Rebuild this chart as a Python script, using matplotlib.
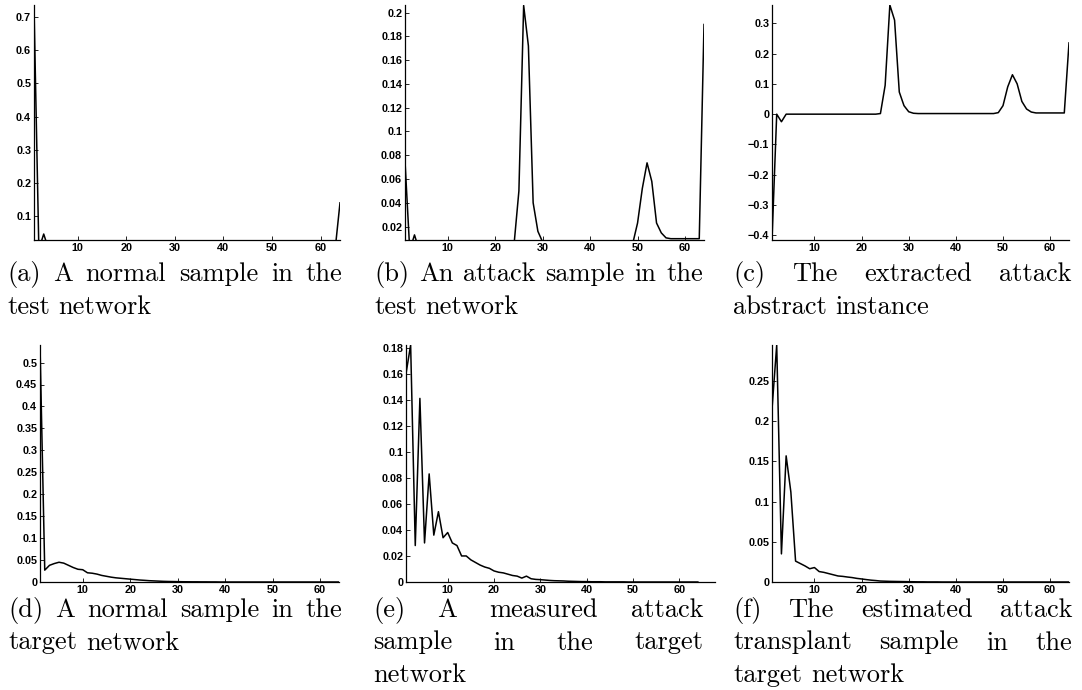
import numpy as np
import matplotlib
matplotlib.use("Agg")
import matplotlib.pyplot as plt
from matplotlib.ticker import FuncFormatter

# x positions (feature index 1..64)
x = np.arange(1, 65)

# (a) normal sample, test network
normal_test = [0.73, 0.0, 0.046, 0.0, 0.0, 0.0, 0.0, 0.0, 0.0, 0.0,
               0.0, 0.0, 0.0, 0.0, 0.0, 0.0, 0.0, 0.0, 0.0, 0.0,
               0.0, 0.0, 0.0, 0.0, 0.0, 0.0, 0.0, 0.0, 0.0, 0.0,
               0.0, 0.0, 0.0, 0.0, 0.0, 0.0, 0.0, 0.0, 0.0, 0.0,
               0.0, 0.0, 0.0, 0.0, 0.0, 0.0, 0.0, 0.0, 0.0, 0.0,
               0.0, 0.0, 0.0, 0.0, 0.0, 0.0, 0.0, 0.0, 0.0, 0.0,
               0.0, 0.0, 0.0, 0.14]

# (b) attack sample, test network
attack_test = [0.075, 0.0, 0.013, 0.0, 0.0, 0.0, 0.0, 0.0, 0.0, 0.0,
               0.0, 0.0, 0.0, 0.0, 0.0, 0.0, 0.0, 0.0, 0.0, 0.0,
               0.0, 0.0, 0.0, 0.006, 0.05, 0.206, 0.172, 0.04, 0.016, 0.007,
               0.003, 0.0, 0.0, 0.0, 0.0, 0.0, 0.0, 0.0, 0.0, 0.0,
               0.0, 0.0, 0.0, 0.0, 0.0, 0.0, 0.0, 0.0, 0.006, 0.023,
               0.052, 0.0736, 0.058, 0.023, 0.0147, 0.0105, 0.0098, 0.0098, 0.0098, 0.0098,
               0.0098, 0.0098, 0.0098, 0.19]

# (c) extracted attack abstract instance
abstract = [-0.415, 0.0, -0.025, 0.0, 0.0, 0.0, 0.0, 0.0, 0.0, 0.0,
            0.0, 0.0, 0.0, 0.0, 0.0, 0.0, 0.0, 0.0, 0.0, 0.0,
            0.0, 0.0, 0.0, 0.002, 0.095, 0.36, 0.31, 0.073, 0.028, 0.008,
            0.003, 0.002, 0.002, 0.002, 0.002, 0.002, 0.002, 0.002, 0.002, 0.002,
            0.002, 0.002, 0.002, 0.002, 0.002, 0.002, 0.002, 0.002, 0.005, 0.028,
            0.09, 0.13, 0.10, 0.042, 0.017, 0.007, 0.004, 0.004, 0.004, 0.004,
            0.004, 0.004, 0.004, 0.235]

# (d) normal sample, target network
normal_target = [0.54, 0.027, 0.038, 0.042, 0.045, 0.043, 0.038, 0.033, 0.029, 0.028,
                 0.021, 0.02, 0.018, 0.015, 0.013, 0.011, 0.0095, 0.0085, 0.0075, 0.0065,
                 0.0055, 0.0045, 0.0038, 0.003, 0.0025, 0.002, 0.0015, 0.0012, 0.001, 0.0008,
                 0.0006, 0.0005, 0.0004, 0.0004, 0.0003, 0.0003, 0.0002, 0.0002, 0.0, 0.0,
                 0.0, 0.0, 0.0, 0.0, 0.0, 0.0, 0.0, 0.0, 0.0, 0.0,
                 0.0, 0.0, 0.0, 0.0, 0.0, 0.0, 0.0, 0.0, 0.0, 0.0,
                 0.0, 0.0, 0.0, 0.0]

# (e) measured attack sample, target network
attack_target = [0.16, 0.182, 0.028, 0.141, 0.03, 0.083, 0.036, 0.054, 0.034, 0.038,
                 0.030, 0.028, 0.020, 0.020, 0.017, 0.015, 0.013, 0.0115, 0.0105, 0.0085,
                 0.0075, 0.007, 0.006, 0.005, 0.0045, 0.003, 0.0045, 0.0025, 0.002, 0.0018,
                 0.0015, 0.0012, 0.001, 0.0009, 0.0008, 0.0006, 0.0005, 0.0004, 0.0003, 0.0003,
                 0.0002, 0.0002, 0.0002, 0.0001, 0.0001, 0.0001, 0.0001, 0.0001, 0.0, 0.0,
                 0.0, 0.0, 0.0, 0.0, 0.0, 0.0, 0.0, 0.0, 0.0, 0.0,
                 0.0, 0.0, 0.0, 0.0]

# (f) estimated attack transplant sample, target network
transplant = [0.215, 0.295, 0.035, 0.157, 0.112, 0.026, 0.023, 0.02, 0.0165, 0.018,
              0.013, 0.012, 0.0105, 0.009, 0.0075, 0.007, 0.0062, 0.0055, 0.0045, 0.0038,
              0.003, 0.0023, 0.0018, 0.0012, 0.001, 0.0008, 0.0007, 0.0006, 0.0005, 0.0004,
              0.0003, 0.0002, 0.0002, 0.0001, 0.0001, 0.0001, 0.0, 0.0, 0.0, 0.0,
              0.0, 0.0, 0.0, 0.0, 0.0, 0.0, 0.0, 0.0, 0.0, 0.0,
              0.0, 0.0, 0.0, 0.0, 0.0, 0.0, 0.0, 0.0, 0.0, 0.0,
              0.0, 0.0, 0.0, 0.0]

x_ticks = [10, 20, 30, 40, 50, 60]
y_ticks_a = [0.1, 0.2, 0.3, 0.4, 0.5, 0.6, 0.7]
y_ticks_b = [0.02, 0.04, 0.06, 0.08, 0.1, 0.12, 0.14, 0.16, 0.18, 0.2]
y_ticks_c = [-0.4, -0.3, -0.2, -0.1, 0, 0.1, 0.2, 0.3]
y_ticks_d = [0, 0.05, 0.1, 0.15, 0.2, 0.25, 0.3, 0.35, 0.4, 0.45, 0.5]
y_ticks_e = [0, 0.02, 0.04, 0.06, 0.08, 0.1, 0.12, 0.14, 0.16, 0.18]
y_ticks_f = [0, 0.05, 0.1, 0.15, 0.2, 0.25]

captions = {
    "a": ["(a) A normal sample in the", "test network"],
    "b": ["(b) An attack sample in the", "test network"],
    "c": ["(c) The extracted attack", "abstract instance"],
    "d": ["(d) A normal sample in the", "target network"],
    "e": ["(e) A measured attack", "sample in the target", "network"],
    "f": ["(f) The estimated attack", "transplant sample in the", "target network"],
}

W, H = 1082, 690


def tick_fmt(v, pos):
	s = "%g" % round(v, 4)
	return s.replace("-", "\u2212")


def make_panel(fig, rect, y, yticks, ylim, xlim):
	"""
	One small matlab-like line plot, rect in pixels (left, top, right, bottom)
	"""
	l, t, r, b = rect
	ax = fig.add_axes([l / W, 1 - b / H, (r - l) / W, (b - t) / H])
	ax.plot(x, y, color="black", lw=1.1)
	ax.set_xlim(*xlim)
	ax.set_ylim(*ylim)
	ax.set_xticks(x_ticks)
	ax.set_yticks(yticks)
	ax.yaxis.set_major_formatter(FuncFormatter(tick_fmt))
	for side in ["top", "right"]:
		ax.spines[side].set_visible(False)
	for side in ["left", "bottom"]:
		ax.spines[side].set_linewidth(0.9)
	ax.tick_params(direction="in", length=3, width=0.6, pad=2,
				   labelsize=7.8)
	for lab in ax.get_xticklabels() + ax.get_yticklabels():
		lab.set_fontfamily("Liberation Sans")
		lab.set_fontweight("bold")
	return ax


def put_caption(fig, renderer, lines, x0, x1, y0, pitch, size=19):
	"""
	Justified caption lines (last line left aligned), positions in pixels
	"""
	for i, line in enumerate(lines):
		words = line.split()
		yb = y0 + i * pitch
		objs = [fig.text(0, 1 - yb / H, w, fontsize=size, family="cmr10",
						 va="baseline", ha="left") for w in words]
		widths = [o.get_window_extent(renderer).width for o in objs]
		last = i == len(lines) - 1
		if not last and len(words) > 1:
			gap = (x1 - x0 - sum(widths)) / (len(words) - 1)
		else:
			gap = size * 100 / 72 * 0.333
		xp = x0
		for o, w in zip(objs, widths):
			o.set_x(xp / W)
			xp += w + gap


fig = plt.figure(figsize=(W / 100, H / 100), dpi=100)
fig.patch.set_facecolor("white")

make_panel(fig, (34, 5, 340, 240), normal_test, y_ticks_a, (0.028, 0.736), (1, 64))
make_panel(fig, (405, 5, 704, 240), attack_test, y_ticks_b, (0.0087, 0.2064), (1, 64))
make_panel(fig, (772, 5, 1069, 240), abstract, y_ticks_c, (-0.415, 0.36), (1, 64))
make_panel(fig, (40, 345, 339, 582), normal_target, y_ticks_d, (0, 0.54), (1, 64))
make_panel(fig, (406, 345, 715, 582), attack_target, y_ticks_e, (0, 0.182), (1, 67.7))
make_panel(fig, (772, 345, 1069, 582), transplant, y_ticks_f, (0, 0.295), (1, 64))

renderer = fig.canvas.get_renderer()
put_caption(fig, renderer, captions["a"], 7, 342, 281, 33)
put_caption(fig, renderer, captions["b"], 374, 703, 281, 33)
put_caption(fig, renderer, captions["c"], 733, 1072, 281, 33)
put_caption(fig, renderer, captions["d"], 8, 342, 617, 32.5)
put_caption(fig, renderer, captions["e"], 373, 703, 617, 32.5)
put_caption(fig, renderer, captions["f"], 733, 1072, 617, 32.5)

fig.savefig("out.png", dpi=100)
